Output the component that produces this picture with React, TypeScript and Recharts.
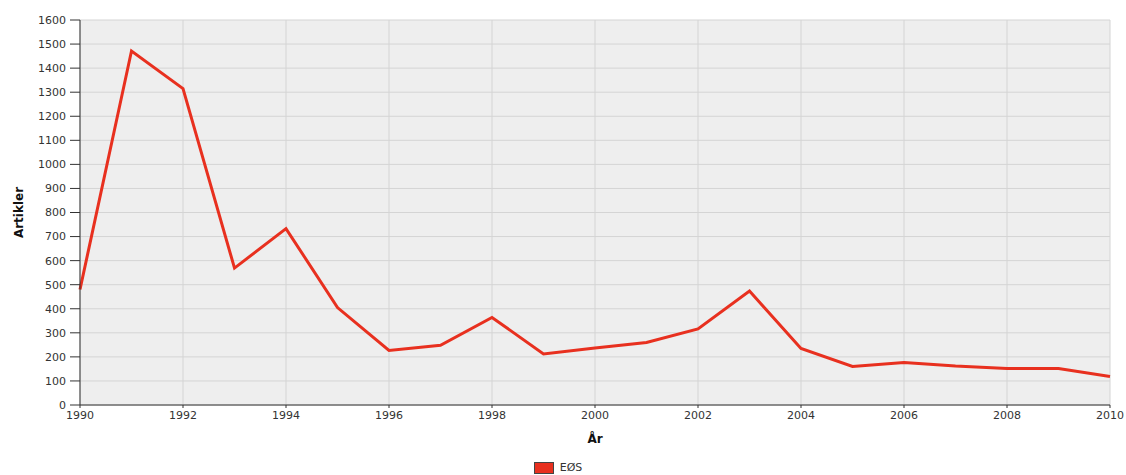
import React from 'react'
import {
  LineChart,
  Line,
  XAxis,
  YAxis,
  CartesianGrid,
  Legend,
} from 'recharts'

const YEARS = [
  1990, 1991, 1992, 1993, 1994, 1995, 1996, 1997, 1998, 1999, 2000,
  2001, 2002, 2003, 2004, 2005, 2006, 2007, 2008, 2009, 2010,
]
const EOS = [
  480, 1471, 1315, 569, 733, 405, 227, 248, 364, 212, 237,
  260, 316, 474, 235, 160, 177, 162, 152, 152, 118,
]
const X_TICKS = [1990, 1992, 1994, 1996, 1998, 2000, 2002, 2004, 2006, 2008, 2010]
const Y_TICKS = [0, 100, 200, 300, 400, 500, 600, 700, 800, 900, 1000, 1100, 1200, 1300, 1400, 1500, 1600]

const data = YEARS.map((year, i) => ({ year, eos: EOS[i] }))

const RED = '#e8301f'
const FONT = '"DejaVu Sans", sans-serif'

function LegendBox() {
  return (
    <div style={{ display: 'flex', justifyContent: 'center', alignItems: 'center', fontFamily: FONT, fontSize: 11, color: '#333', paddingTop: 4, paddingRight: 8 }}>
      <span style={{ width: 18, height: 10, background: RED, border: '1px solid #444', marginRight: 6, display: 'inline-block' }} />
      <span>EØS</span>
    </div>
  )
}

export default function App() {
  return (
    <div style={{ position: 'absolute', left: 0, top: 0, width: 1126, height: 475, background: '#fff' }}>
      <LineChart width={1126} height={475} data={data} margin={{ top: 20, right: 16, bottom: 2, left: 14 }}>
        <CartesianGrid stroke="#d4d4d4" strokeWidth={1} fill="#eeeeee" />
        <XAxis
          dataKey="year"
          type="number"
          domain={[1990, 2010]}
          ticks={X_TICKS}
          height={52}
          tickSize={3}
          tickMargin={3}
          tick={{ fontSize: 11, fill: '#333', fontFamily: FONT }}
          stroke="#333"
          label={{ value: 'År', position: 'insideBottom', offset: 14, style: { fontSize: 12, fontWeight: 'bold', fill: '#111', fontFamily: FONT } }}
        />
        <YAxis
          type="number"
          domain={[0, 1600]}
          ticks={Y_TICKS}
          width={66}
          tickSize={10}
          tickMargin={4}
          interval={0}
          tick={{ fontSize: 11, fill: '#333', fontFamily: FONT }}
          stroke="#333"
          label={{ value: 'Artikler', angle: -90, position: 'insideLeft', offset: 5, style: { fontSize: 12, fontWeight: 'bold', fill: '#111', fontFamily: FONT, textAnchor: 'middle' } }}
        />
        <Legend verticalAlign="bottom" height={16} content={() => <LegendBox />} />
        <Line
          type="linear"
          dataKey="eos"
          name="EØS"
          stroke={RED}
          strokeWidth={3}
          dot={false}
          activeDot={false}
          isAnimationActive={false}
        />
      </LineChart>
    </div>
  )
}
